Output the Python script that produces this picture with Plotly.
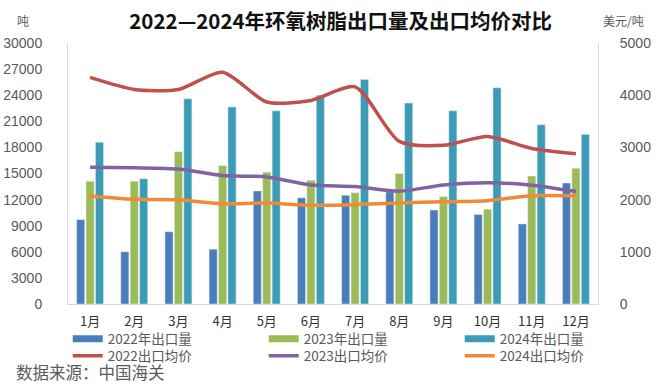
import plotly.graph_objects as go

months = ["1月", "2月", "3月", "4月", "5月", "6月", "7月", "8月", "9月", "10月", "11月", "12月"]
vol_2022 = [9700, 6000, 8300, 6300, 13000, 12200, 12500, 12900, 10800, 10300, 9200, 13900]
vol_2023 = [14100, 14100, 17500, 15900, 15150, 14230, 12800, 15000, 12350, 10900, 14700, 15600]
vol_2024 = [18600, 14400, 23600, 22650, 22200, 24000, 25800, 23100, 22200, 24850, 20600, 19500]
price_2022 = [4340, 4110, 4110, 4440, 3870, 3900, 4160, 3115, 3040, 3210, 2980, 2880]
price_2023 = [2620, 2610, 2585, 2460, 2435, 2280, 2250, 2160, 2280, 2325, 2275, 2155]
price_2024 = [2070, 2005, 1995, 1920, 1935, 1890, 1905, 1935, 1960, 1980, 2075, 2070]

bar_names = ["2022年出口量", "2023年出口量", "2024年出口量"]
line_names = ["2022出口均价", "2023出口均价", "2024出口均价"]
bar_colors = ["#4A7EBB", "#9BBB59", "#3C9CB8"]
line_colors = ["#C0504D", "#8064A2", "#F08A36"]

CJK = "Noto Sans CJK SC"
W, H = 659, 384
ML, MR, MT, MB = 68, 61, 43, 80
PW, PH = W - ML - MR, H - MT - MB

def px_x(x):
    return (x - ML) / PW

def px_y(y):
    return (H - MB - y) / PH

fig = go.Figure()
for name, vals, col in zip(bar_names, [vol_2022, vol_2023, vol_2024], bar_colors):
    fig.add_trace(go.Bar(x=months, y=vals, name=name, marker_color=col,
                         showlegend=False, yaxis="y"))
# legend swatches for the bar series (thick strips like the reference)
for name, col in zip(bar_names, bar_colors):
    fig.add_trace(go.Scatter(x=[None], y=[None], mode="lines", name=name,
                             line=dict(color=col, width=7), yaxis="y", legend="legend"))
for name, vals, col in zip(line_names, [price_2022, price_2023, price_2024], line_colors):
    fig.add_trace(go.Scatter(x=months, y=vals, name=name, mode="lines",
                             line=dict(color=col, width=3.5, shape="spline", smoothing=0.7),
                             yaxis="y2", legend="legend2"))

legend_common = dict(orientation="h", xanchor="left", yanchor="middle",
                     entrywidth=151, entrywidthmode="pixels", tracegroupgap=0,
                     font=dict(family=CJK, size=13.5, color="#595959"),
                     bgcolor="rgba(0,0,0,0)", itemclick=False, itemdoubleclick=False)

fig.update_layout(
    width=W, height=H,
    margin=dict(l=ML, r=MR, t=MT, b=MB, autoexpand=False),
    paper_bgcolor="white", plot_bgcolor="white",
    font=dict(family=CJK, color="#595959", size=13),
    barmode="group", bargap=0.36, bargroupgap=0.14,
    title=dict(text="<b>2022—2024年环氧树脂出口量及出口均价对比</b>",
               x=0.517, xanchor="center", y=1 - 22 / H, yanchor="middle",
               yref="container", font=dict(family=CJK, size=20.5, color="#111111")),
    xaxis=dict(showline=True, linecolor="#D9D9D9", linewidth=1, ticks="",
               tickfont=dict(family=CJK, size=13, color="#333333"),
               ticklabelstandoff=5, showgrid=False, zeroline=False),
    yaxis=dict(range=[0, 30000], dtick=3000, tickformat="d", showline=True,
               linecolor="#D9D9D9", showgrid=False, zeroline=False, ticks="",
               tickfont=dict(family="Liberation Sans", size=14, color="#595959"),
               ticklabelstandoff=22),
    yaxis2=dict(range=[0, 5000], dtick=1000, tickformat="d", overlaying="y", side="right",
                showline=True, linecolor="#D9D9D9", showgrid=False, zeroline=False,
                ticks="", tickfont=dict(family="Liberation Sans", size=14, color="#595959"),
                ticklabelstandoff=18),
    legend=dict(legend_common, x=-0.0005, y=px_y(339)),
    legend2=dict(legend_common, x=-0.0005, y=px_y(356)),
    annotations=[
        dict(text="吨", x=px_x(23), y=px_y(21), xref="paper", yref="paper",
             xanchor="center", yanchor="middle", showarrow=False,
             font=dict(family=CJK, size=12, color="#595959")),
        dict(text="美元/吨", x=px_x(623), y=px_y(21), xref="paper", yref="paper",
             xanchor="center", yanchor="middle", showarrow=False,
             font=dict(family=CJK, size=12, color="#595959")),
        dict(text="数据来源：中国海关", x=px_x(14), y=px_y(372), xref="paper", yref="paper",
             xanchor="left", yanchor="middle", showarrow=False,
             font=dict(family=CJK, size=16.5, color="#595959")),
    ],
)

fig.write_html("out.html", config={"displayModeBar": False},
               post_script="document.body.style.margin='0';")
